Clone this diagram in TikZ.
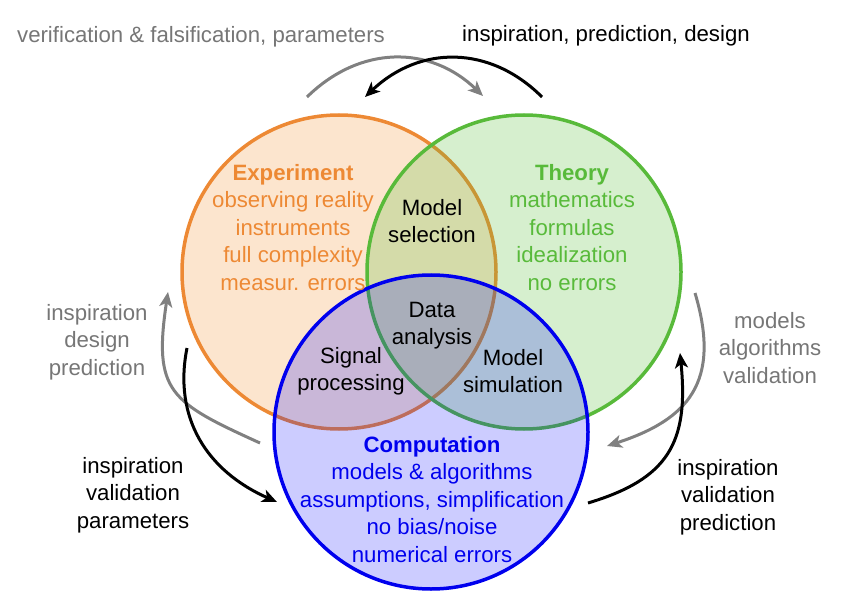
\documentclass[tikz,border=0pt]{standalone}
\usepackage{fontspec}
\setmainfont{Liberation Sans}
\usetikzlibrary{arrows.meta}

\definecolor{expcol}{RGB}{237,137,52}
\definecolor{thecol}{RGB}{88,186,58}
\definecolor{comcol}{RGB}{0,0,238}
\definecolor{expfill}{RGB}{243,150,60}
\definecolor{thefill}{RGB}{92,190,60}
\definecolor{comfill}{RGB}{0,0,255}
\definecolor{graycol}{RGB}{128,128,128}
\definecolor{graytext}{RGB}{118,118,118}

\tikzset{
  venn/.style={circle, minimum size=314pt, inner sep=0pt, line width=3.5pt},
  lbl/.style={align=center, inner sep=0pt, font=\fontsize{22.2}{27.5}\selectfont},
  cyc/.style={line width=3pt, -{Stealth[length=15pt, width=13pt, inset=4pt]}},
}

\begin{document}
\begin{tikzpicture}[x=1pt, y=-1pt]
  \useasboundingbox (0,0) rectangle (848,612);

  % the three overlapping fields
  \node[venn, draw=expcol, fill=expfill, fill opacity=0.25] (exp) at (339,272) {};
  \node[venn, draw=thecol, fill=thefill, fill opacity=0.25] (the) at (524,272) {};
  \node[venn, draw=comcol, fill=comfill, fill opacity=0.2] (com) at (431,432) {};

  % field descriptions
  \node[lbl, text=expcol, anchor=north] (exptxt) at (293,164)
    {\textbf{Experiment}\\observing reality\\instruments\\full complexity\\measur. errors};
  \node[lbl, text=thecol, anchor=north] (thetxt) at (572,164)
    {\textbf{Theory}\\mathematics\\formulas\\idealization\\no errors};
  \node[lbl, text=comcol, anchor=north] (comtxt) at (432,436)
    {\textbf{Computation}\\models \& algorithms\\assumptions, simplification\\no bias/noise\\numerical errors};

  % overlaps
  \node[lbl, anchor=north] (msel) at (432,199) {Model\\selection};
  \node[lbl, anchor=north] (dana) at (432,302) {Data\\analysis};
  \node[lbl, anchor=north] (sig) at (351,347) {Signal\\processing};
  \node[lbl, anchor=north] (msim) at (513,349) {Model\\simulation};

  % labels of the exchanges
  \node[lbl, text=graytext] (topl) at (201,37) {verification \& falsification, parameters};
  \node[lbl] (topr) at (606,36) {inspiration, prediction, design};
  \node[lbl, text=graytext, anchor=north] (leftg) at (97,304) {inspiration\\design\\prediction};
  \node[lbl, anchor=north] (leftb) at (133,457) {inspiration\\validation\\parameters};
  \node[lbl, text=graytext, anchor=north] (rightg) at (770,312) {models\\algorithms\\validation};
  \node[lbl, anchor=north] (rightb) at (728,459) {inspiration\\validation\\prediction};

  % end points of the exchange arrows
  \coordinate (tg0) at (307,97);  \coordinate (tg1) at (483,96);
  \coordinate (tb0) at (542,97);  \coordinate (tb1) at (365,97);
  \coordinate (lg0) at (260,443); \coordinate (lg1) at (168,292);
  \coordinate (lb0) at (187,348); \coordinate (lb1) at (277,502);
  \coordinate (rg0) at (695,293); \coordinate (rg1) at (607,446);
  \coordinate (rb0) at (588,503); \coordinate (rb1) at (680,353);

  % exchange arrows
  \draw[cyc, graycol] (tg0) .. controls (360,45) and (430,45) .. (tg1);
  \draw[cyc, black]   (tb0) .. controls (490,45) and (420,45) .. (tb1);
  \draw[cyc, graycol] (lg0) .. controls (170,402) and (153,392) .. (lg1);
  \draw[cyc, black]   (lb0) .. controls (173,418) and (207,471) .. (lb1);
  \draw[cyc, graycol] (rg0) .. controls (722,383) and (687,420) .. (rg1);
  \draw[cyc, black]   (rb0) .. controls (668,479) and (689,443) .. (rb1);
\end{tikzpicture}
\end{document}
